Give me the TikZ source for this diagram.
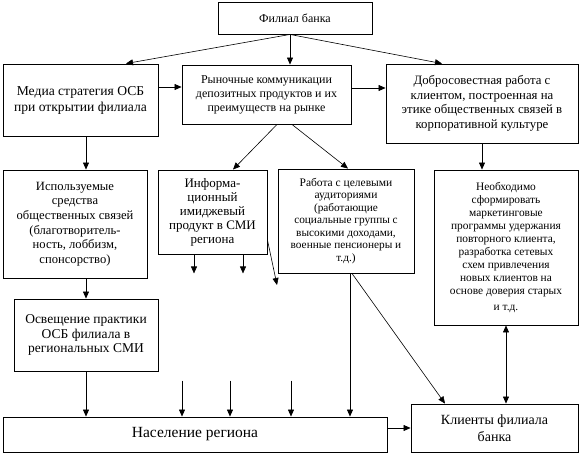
\documentclass[tikz,border=0pt]{standalone}
\usepackage{fontspec}
\setmainfont{Liberation Serif}
\usetikzlibrary{arrows.meta, positioning, calc}
\newcommand{\smallline}{\fontsize{11.3}{12.5}\selectfont}

\begin{document}
\begin{tikzpicture}[
    x=1pt, y=-1pt,
    font=\fontsize{12}{14}\selectfont,
    >={Triangle[length=7pt,width=6pt]},
    % Node styles
    block/.style={rectangle, draw=black, line width=0.9pt, align=center, inner sep=2pt, fill=white},
    % Edge styles
    arrow/.style={->, line width=0.6pt, draw=black},
    biarrow/.style={<->, line width=0.6pt, draw=black}
]
\useasboundingbox (0,0) rectangle (582,456);

% -----------------------------------------------------------
% ROW 1: Branch and strategies
% -----------------------------------------------------------
\node[block, minimum width=154pt, minimum height=32pt] (filial) at (295, 18) {Филиал банка};
\node[block, minimum width=155pt, minimum height=72pt, font=\fontsize{13.6}{16}\selectfont] (media) at (80.5, 100) {Медиа стратегия ОСБ\\при открытии филиала};
\node[block, minimum width=169pt, minimum height=59pt, font=\fontsize{12}{14}\selectfont] (market) at (266.5, 94.5) {Рыночные коммуникации\\депозитных продуктов и их\\преимуществ на рынке};
\node[block, minimum width=192pt, minimum height=79pt, font=\fontsize{12.8}{14.5}\selectfont] (dobro) at (482, 103.5) {Добросовестная работа с\\клиентом, построенная на\\этике общественных связей в\\корпоративной культуре};

% -----------------------------------------------------------
% ROW 2: Tools and target groups
% -----------------------------------------------------------
\node[block, minimum width=144pt, minimum height=108pt, font=\fontsize{12.6}{14.7}\selectfont] (used) at (75, 224) {Используемые\\средства\\общественных связей\\(благотворитель-\\ность, лоббизм,\\спонсорство)};
\node[block, minimum width=109pt, minimum height=84pt, font=\fontsize{13}{14}\selectfont] (info) at (212.5, 212) {Информа-\\ционный\\имиджевый\\продукт в СМИ\\региона};
\node[block, minimum width=136pt, minimum height=104pt, font=\fontsize{11.5}{12.5}\selectfont] (work) at (346, 221) {Работа с целевыми\\аудиториями\\\smallline(работающие\\\smallline социальные группы с\\\smallline высокими доходами,\\\smallline военные пенсионеры и\\\smallline т.д.)};
\node[block, minimum width=144pt, minimum height=155pt, font=\fontsize{11.4}{13}\selectfont] (need) at (506, 247.5) {Необходимо\\сформировать\\маркетинговые\\программы удержания\\повторного клиента,\\разработка сетевых\\схем привлечения\\новых клиентов на\\основе доверия старых\\[3pt]и т.д.};
\node[block, minimum width=144pt, minimum height=72pt, font=\fontsize{13.5}{14.5}\selectfont] (cover) at (86, 335) {Освещение практики\\ОСБ филиала в\\региональных СМИ};

% -----------------------------------------------------------
% ROW 3: Region and clients
% -----------------------------------------------------------
\node[block, minimum width=384pt, minimum height=35pt, font=\fontsize{15.5}{17}\selectfont] (pop) at (195, 434.5) {Население региона};
\node[block, minimum width=167pt, minimum height=48pt, font=\fontsize{14}{17}\selectfont] (clients) at (494.5, 428) {Клиенты филиала\\банка};

% free ends
\coordinate (infoA) at ([xshift=-18.5pt, yshift=-19pt]info.south);
\coordinate (infoB) at ([xshift=30.5pt, yshift=-19pt]info.south);
\coordinate (infoC) at (277, 285);
\coordinate (popA) at ([xshift=-13pt, yshift=36pt]pop.north);
\coordinate (popB) at ([xshift=35pt, yshift=36pt]pop.north);
\coordinate (popC) at ([xshift=96pt, yshift=36pt]pop.north);

% -----------------------------------------------------------
% Connectors
% -----------------------------------------------------------
\draw[arrow] ([xshift=-5pt]filial.south) -- ([xshift=45.5pt]media.north);
\draw[arrow] ([xshift=-5pt]filial.south) -- ([xshift=23.5pt]market.north);
\draw[arrow] ([xshift=-5pt]filial.south) -- ([xshift=-40pt]dobro.north);

\draw[arrow] ([yshift=13pt]media.east) -- ([yshift=13pt]media.east -| market.west);
\draw[arrow] ([yshift=6.5pt]market.east) -- ([yshift=6.5pt]market.east -| dobro.west);

\draw[arrow] ([xshift=10.5pt]market.south) -- ([xshift=20.5pt]info.north);
\draw[arrow] ([xshift=25.5pt]market.south) -- ([xshift=2pt]work.north);

\draw[arrow] ([xshift=5.5pt]media.south) -- ([xshift=5.5pt]media.south |- used.north);
\draw[arrow] (dobro.south) -- (dobro.south |- need.north);
\draw[arrow] ([xshift=11pt]used.south) -- ([xshift=11pt]used.south |- cover.north);

\draw[arrow] ([xshift=-18.5pt]info.south) -- (infoA);
\draw[arrow] ([xshift=30.5pt]info.south) -- (infoB);
\draw[arrow] ([yshift=-28pt]info.east) -- (infoC);

\draw[arrow] (cover.south) -- (cover.south |- pop.north);
\draw[arrow] (popA) -- (popA |- pop.north);
\draw[arrow] (popB) -- (popB |- pop.north);
\draw[arrow] (popC) -- (popC |- pop.north);
\draw[arrow] ([xshift=4pt]work.south) -- ([xshift=4pt]work.south |- pop.north);
\draw[arrow] ([xshift=6pt]work.south) -- ([xshift=-49.5pt]clients.north);

\draw[arrow] ([yshift=6.5pt]pop.east) -- ([yshift=6.5pt]pop.east -| clients.west);
\draw[biarrow] (need.south) -- (need.south |- clients.north);

\end{tikzpicture}
\end{document}
